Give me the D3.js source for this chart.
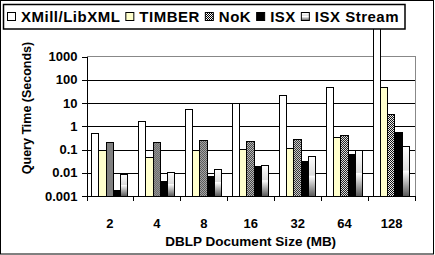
<!DOCTYPE html>
<html lang="en">
<head>
  <meta charset="UTF-8">
  <title>Query time vs DBLP size</title>
  <script src="https://d3js.org/d3.v7.min.js"></script>
  <style>
    body { margin: 0; background: #fff; }
    svg text { font-family: "Liberation Sans", Arial, sans-serif; font-weight: bold; fill: #000; }
    .axis path, .axis line { stroke: #000; shape-rendering: crispEdges; }
    .grid line { stroke: #000; shape-rendering: crispEdges; }
    .bar { stroke: #000; stroke-width: 1; shape-rendering: crispEdges; }
  </style>
</head>
<body>
  <svg width="435" height="255"></svg>

  <script>
    // data
    const sizes = ["2", "4", "8", "16", "32", "64", "128"];
    const systems = ["XMill/LibXML", "TIMBER", "NoK", "ISX", "ISX Stream"];
    const xmill     = [0.5, 1.65, 5.4, 9.8, 21, 46, 20000];
    const timber    = [0.087, 0.046, 0.087, 0.1, 0.11, 0.33, 46];
    const nok       = [0.2, 0.2, 0.25, 0.23, 0.28, 0.41, 3.2];
    const isx       = [0.0018, 0.0044, 0.0072, 0.018, 0.031, 0.063, 0.52];
    const isxStream = [0.0088, 0.0107, 0.0144, 0.021, 0.052, 0.087, 0.14];
    const yTicks = [0.001, 0.01, 0.1, 1, 10, 100, 1000];
    const yTickLabels = ["0.001", "0.01", "0.1", "1", "10", "100", "1000"];

    const seriesValues = [xmill, timber, nok, isx, isxStream];

    const svg = d3.select("svg");
    const plot = {left: 86.5, right: 415, top: 56.5, bottom: 196};

    const defs = svg.append("defs");
    // checker pattern for NoK
    const pat = defs.append("pattern")
      .attr("id", "checker").attr("width", 2).attr("height", 2)
      .attr("patternUnits", "userSpaceOnUse");
    pat.append("rect").attr("width", 2).attr("height", 2).attr("fill", "#fff");
    pat.append("rect").attr("width", 1).attr("height", 1).attr("fill", "#000");
    pat.append("rect").attr("x", 1).attr("y", 1).attr("width", 1).attr("height", 1).attr("fill", "#000");
    // gradient for ISX Stream
    const grad = defs.append("linearGradient")
      .attr("id", "stream").attr("x1", 0).attr("y1", 0).attr("x2", 0).attr("y2", 1);
    grad.append("stop").attr("offset", "0%").attr("stop-color", "#fff");
    grad.append("stop").attr("offset", "48%").attr("stop-color", "#dcdcdc");
    grad.append("stop").attr("offset", "50%").attr("stop-color", "#fff");
    grad.append("stop").attr("offset", "100%").attr("stop-color", "#5a5a5a");

    const fills = ["#fff", "#ffffcc", "url(#checker)", "#000", "url(#stream)"];

    // outer frame
    svg.append("rect")
      .attr("x", 0.5).attr("y", 0.5).attr("width", 433).attr("height", 253.5)
      .attr("fill", "#fff").attr("stroke", "#000");

    const x0 = d3.scaleBand().domain(sizes).range([plot.left, plot.right]);
    const x1 = d3.scaleBand().domain(systems)
      .range([5, x0.bandwidth() - 5.5]);
    const y = d3.scaleLog().domain([0.001, 1000]).range([plot.bottom, plot.top]);

    // grid
    svg.append("g").attr("class", "grid")
      .selectAll("line")
      .data(yTicks.filter(t => t > 0.001 && t < 1000))
      .join("line")
        .attr("x1", plot.left).attr("x2", plot.right)
        .attr("y1", d => Math.round(y(d)) + 0.5).attr("y2", d => Math.round(y(d)) + 0.5);

    // plot area border (top, right)
    svg.append("path")
      .attr("d", `M${plot.left},${plot.top}H${plot.right}V${plot.bottom}`)
      .attr("fill", "none").attr("stroke", "#888").attr("shape-rendering", "crispEdges");

    // bars
    const groups = svg.append("g").selectAll("g")
      .data(sizes)
      .join("g")
        .attr("transform", d => `translate(${x0(d)},0)`);

    groups.selectAll("rect")
      .data((d, i) => systems.map((s, k) => ({s, k, v: seriesValues[k][i]})))
      .join("rect")
        .attr("class", "bar")
        .attr("x", d => x1(d.s))
        .attr("width", x1.bandwidth())
        .attr("y", d => y(d.v))
        .attr("height", d => plot.bottom - y(d.v))
        .attr("fill", d => fills[d.k]);

    // y axis
    const yAxis = svg.append("g").attr("class", "axis")
      .attr("transform", `translate(${plot.left},0)`)
      .call(d3.axisLeft(y).tickValues(yTicks)
        .tickFormat((d, i) => yTickLabels[i])
        .tickSize(5).tickSizeOuter(0).tickPadding(4));
    yAxis.selectAll("text").style("font-size", "13px");

    // x axis: labels centred, ticks on boundaries
    const xAxis = svg.append("g").attr("class", "axis")
      .attr("transform", `translate(0,${plot.bottom})`)
      .call(d3.axisBottom(x0).tickSize(0).tickPadding(23));
    xAxis.selectAll("text").style("font-size", "13px");
    xAxis.selectAll(".tick line").remove();
    xAxis.selectAll(".bound")
      .data(sizes.map(d => x0(d)).concat([x0.range()[1]]))
      .join("line")
        .attr("class", "bound")
        .attr("x1", d => Math.round(d) + 0.5).attr("x2", d => Math.round(d) + 0.5)
        .attr("y1", 0).attr("y2", 5);

    // titles
    svg.append("text")
      .attr("x", (plot.left + plot.right) / 2).attr("y", 246)
      .attr("text-anchor", "middle").style("font-size", "13.5px")
      .text("DBLP Document Size (MB)");
    svg.append("text")
      .attr("transform", `translate(31,108) rotate(-90)`)
      .attr("text-anchor", "middle").style("font-size", "12.5px")
      .text("Query Time (Seconds)");

    // legend
    const legend = svg.append("g");
    legend.append("rect")
      .attr("x", 3.5).attr("y", 4.5).attr("width", 401.5).attr("height", 24.5)
      .attr("fill", "#fff").attr("stroke", "#000").attr("stroke-width", 1.5);
    let lx = 7.5;
    systems.forEach((s, k) => {
      legend.append("rect")
        .attr("x", lx).attr("y", 12.5).attr("width", 8).attr("height", 8)
        .attr("fill", fills[k]).attr("stroke", "#000");
      const t = legend.append("text")
        .attr("x", lx + 13.5).attr("y", 22)
        .style("font-size", "15px")
        .style("letter-spacing", "0.5px")
        .text(s);
      lx += 13.5 + t.node().getComputedTextLength() + 5.5;
    });
  </script>
</body>
</html>
